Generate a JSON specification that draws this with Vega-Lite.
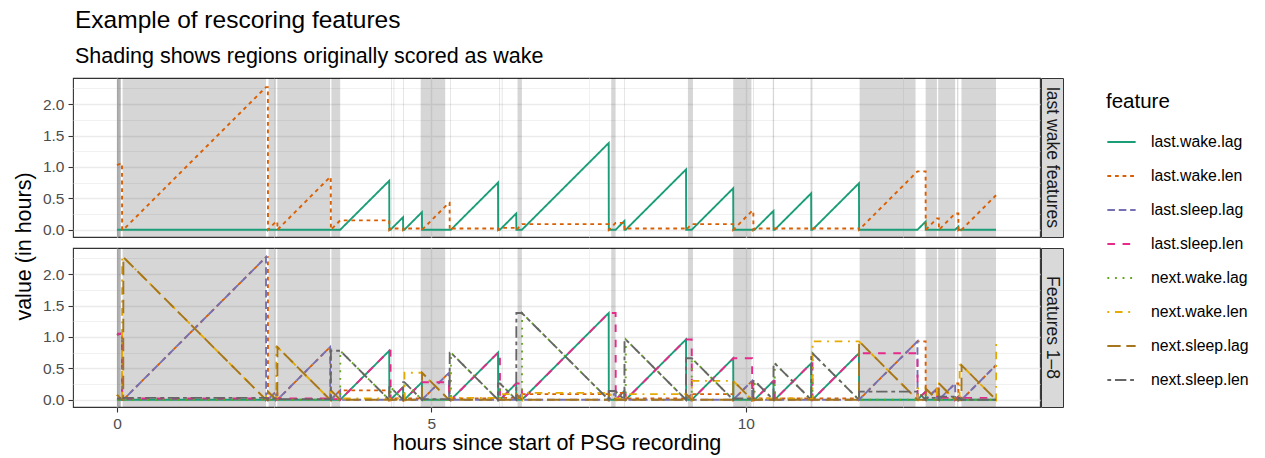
{
"$schema": "https://vega.github.io/schema/vega-lite/v6.json",
"padding": {"left": 12, "top": 8, "right": 0, "bottom": 0},
"title": {"text": "Example of rescoring features", "subtitle": "Shading shows regions originally scored as wake", "anchor": "start", "frame": "group", "dx": 2, "fontSize": 24.5, "subtitleFontSize": 21.5, "fontWeight": "normal", "color": "#000000", "subtitleColor": "#000000", "offset": 9, "subtitlePadding": 12, "font": "Liberation Sans", "subtitleFont": "Liberation Sans"},
"datasets": {
"wake": [{"t":0,"t2":0.065},{"t":0,"t2":0.055},{"t":0.09,"t2":2.37},{"t":2.41,"t2":2.53},{"t":2.55,"t2":3.39},{"t":3.41,"t2":3.55},{"t":4.36,"t2":4.37},{"t":4.40,"t2":4.41},{"t":4.55,"t2":4.56},{"t":4.83,"t2":5.22},{"t":5.30,"t2":5.31},{"t":6.08,"t2":6.09},{"t":6.12,"t2":6.13},{"t":6.37,"t2":6.44},{"t":7.86,"t2":7.93},{"t":8.07,"t2":8.08},{"t":9.08,"t2":9.16},{"t":9.80,"t2":10.09},{"t":10.12,"t2":10.13},{"t":10.43,"t2":10.45},{"t":11.03,"t2":11.06},{"t":11.81,"t2":12.70},{"t":12.86,"t2":13.04},{"t":13.06,"t2":13.33},{"t":13.36,"t2":13.38},{"t":13.43,"t2":13.98}],
"feat": [
{"f":"last.wake.lag","t":0,"v":0},{"f":"last.wake.lag","t":3.55,"v":0},{"f":"last.wake.lag","t":4.33,"v":0.78},{"f":"last.wake.lag","t":4.332,"v":0},{"f":"last.wake.lag","t":4.35,"v":0},{"f":"last.wake.lag","t":4.55,"v":0.2},{"f":"last.wake.lag","t":4.552,"v":0},{"f":"last.wake.lag","t":4.57,"v":0},{"f":"last.wake.lag","t":4.85,"v":0.28},{"f":"last.wake.lag","t":4.852,"v":0},{"f":"last.wake.lag","t":5.31,"v":0},{"f":"last.wake.lag","t":6.06,"v":0.75},{"f":"last.wake.lag","t":6.062,"v":0},{"f":"last.wake.lag","t":6.09,"v":0},{"f":"last.wake.lag","t":6.35,"v":0.26},{"f":"last.wake.lag","t":6.352,"v":0},{"f":"last.wake.lag","t":6.44,"v":0},{"f":"last.wake.lag","t":7.82,"v":1.38},{"f":"last.wake.lag","t":7.822,"v":0},{"f":"last.wake.lag","t":7.93,"v":0},{"f":"last.wake.lag","t":8.07,"v":0.14},{"f":"last.wake.lag","t":8.072,"v":0},{"f":"last.wake.lag","t":8.09,"v":0},{"f":"last.wake.lag","t":9.05,"v":0.96},{"f":"last.wake.lag","t":9.052,"v":0},{"f":"last.wake.lag","t":9.14,"v":0},{"f":"last.wake.lag","t":9.8,"v":0.66},{"f":"last.wake.lag","t":9.802,"v":0},{"f":"last.wake.lag","t":10.14,"v":0},{"f":"last.wake.lag","t":10.44,"v":0.3},{"f":"last.wake.lag","t":10.442,"v":0},{"f":"last.wake.lag","t":10.46,"v":0},{"f":"last.wake.lag","t":11.04,"v":0.58},{"f":"last.wake.lag","t":11.042,"v":0},{"f":"last.wake.lag","t":11.06,"v":0},{"f":"last.wake.lag","t":11.8,"v":0.74},{"f":"last.wake.lag","t":11.802,"v":0},{"f":"last.wake.lag","t":12.73,"v":0},{"f":"last.wake.lag","t":12.86,"v":0.13},{"f":"last.wake.lag","t":12.862,"v":0},{"f":"last.wake.lag","t":13.33,"v":0},{"f":"last.wake.lag","t":13.38,"v":0.05},{"f":"last.wake.lag","t":13.382,"v":0},{"f":"last.wake.lag","t":13.98,"v":0},
{"f":"last.wake.len","t":0,"v":1.03},{"f":"last.wake.len","t":0.08,"v":1.06},{"f":"last.wake.len","t":0.082,"v":0},{"f":"last.wake.len","t":0.1,"v":0},{"f":"last.wake.len","t":2.37,"v":2.27},{"f":"last.wake.len","t":2.4,"v":2.27},{"f":"last.wake.len","t":2.402,"v":0},{"f":"last.wake.len","t":2.53,"v":0.13},{"f":"last.wake.len","t":2.55,"v":0.13},{"f":"last.wake.len","t":2.552,"v":0},{"f":"last.wake.len","t":3.39,"v":0.84},{"f":"last.wake.len","t":3.4,"v":0.84},{"f":"last.wake.len","t":3.402,"v":0},{"f":"last.wake.len","t":3.55,"v":0.15},{"f":"last.wake.len","t":4.33,"v":0.15},{"f":"last.wake.len","t":4.332,"v":0},{"f":"last.wake.len","t":4.35,"v":0.02},{"f":"last.wake.len","t":4.55,"v":0.02},{"f":"last.wake.len","t":4.552,"v":0},{"f":"last.wake.len","t":4.57,"v":0.02},{"f":"last.wake.len","t":4.85,"v":0.02},{"f":"last.wake.len","t":4.852,"v":0},{"f":"last.wake.len","t":5.28,"v":0.43},{"f":"last.wake.len","t":5.29,"v":0.43},{"f":"last.wake.len","t":5.292,"v":0},{"f":"last.wake.len","t":5.31,"v":0.02},{"f":"last.wake.len","t":6.06,"v":0.02},{"f":"last.wake.len","t":6.062,"v":0},{"f":"last.wake.len","t":6.09,"v":0.03},{"f":"last.wake.len","t":6.35,"v":0.03},{"f":"last.wake.len","t":6.352,"v":0},{"f":"last.wake.len","t":6.44,"v":0.09},{"f":"last.wake.len","t":7.82,"v":0.09},{"f":"last.wake.len","t":7.822,"v":0},{"f":"last.wake.len","t":7.93,"v":0.11},{"f":"last.wake.len","t":8.07,"v":0.11},{"f":"last.wake.len","t":8.072,"v":0},{"f":"last.wake.len","t":8.09,"v":0.02},{"f":"last.wake.len","t":9.05,"v":0.02},{"f":"last.wake.len","t":9.052,"v":0},{"f":"last.wake.len","t":9.14,"v":0.09},{"f":"last.wake.len","t":9.8,"v":0.09},{"f":"last.wake.len","t":9.802,"v":0},{"f":"last.wake.len","t":10.1,"v":0.3},{"f":"last.wake.len","t":10.12,"v":0.3},{"f":"last.wake.len","t":10.122,"v":0},{"f":"last.wake.len","t":10.14,"v":0.02},{"f":"last.wake.len","t":11.8,"v":0.02},{"f":"last.wake.len","t":11.802,"v":0},{"f":"last.wake.len","t":12.73,"v":0.93},{"f":"last.wake.len","t":12.86,"v":0.93},{"f":"last.wake.len","t":12.862,"v":0},{"f":"last.wake.len","t":13.04,"v":0.18},{"f":"last.wake.len","t":13.07,"v":0.18},{"f":"last.wake.len","t":13.072,"v":0},{"f":"last.wake.len","t":13.33,"v":0.26},{"f":"last.wake.len","t":13.38,"v":0.26},{"f":"last.wake.len","t":13.382,"v":0},{"f":"last.wake.len","t":13.4,"v":0.02},{"f":"last.wake.len","t":13.43,"v":0.02},{"f":"last.wake.len","t":13.432,"v":0},{"f":"last.wake.len","t":13.98,"v":0.55},
{"f":"last.sleep.lag","t":0,"v":1.03},{"f":"last.sleep.lag","t":0.08,"v":1.06},{"f":"last.sleep.lag","t":0.082,"v":0},{"f":"last.sleep.lag","t":0.1,"v":0},{"f":"last.sleep.lag","t":2.37,"v":2.27},{"f":"last.sleep.lag","t":2.372,"v":0},{"f":"last.sleep.lag","t":2.4,"v":0},{"f":"last.sleep.lag","t":2.53,"v":0.13},{"f":"last.sleep.lag","t":2.532,"v":0},{"f":"last.sleep.lag","t":2.55,"v":0},{"f":"last.sleep.lag","t":3.39,"v":0.84},{"f":"last.sleep.lag","t":3.392,"v":0},{"f":"last.sleep.lag","t":3.4,"v":0},{"f":"last.sleep.lag","t":3.55,"v":0.15},{"f":"last.sleep.lag","t":3.552,"v":0},{"f":"last.sleep.lag","t":4.85,"v":0},{"f":"last.sleep.lag","t":5.28,"v":0.43},{"f":"last.sleep.lag","t":5.282,"v":0},{"f":"last.sleep.lag","t":6.35,"v":0},{"f":"last.sleep.lag","t":6.44,"v":0.09},{"f":"last.sleep.lag","t":6.442,"v":0},{"f":"last.sleep.lag","t":7.82,"v":0},{"f":"last.sleep.lag","t":7.93,"v":0.11},{"f":"last.sleep.lag","t":7.932,"v":0},{"f":"last.sleep.lag","t":9.05,"v":0},{"f":"last.sleep.lag","t":9.14,"v":0.09},{"f":"last.sleep.lag","t":9.142,"v":0},{"f":"last.sleep.lag","t":9.8,"v":0},{"f":"last.sleep.lag","t":10.1,"v":0.3},{"f":"last.sleep.lag","t":10.102,"v":0},{"f":"last.sleep.lag","t":11.8,"v":0},{"f":"last.sleep.lag","t":12.73,"v":0.93},{"f":"last.sleep.lag","t":12.732,"v":0},{"f":"last.sleep.lag","t":12.86,"v":0},{"f":"last.sleep.lag","t":13.04,"v":0.18},{"f":"last.sleep.lag","t":13.042,"v":0},{"f":"last.sleep.lag","t":13.07,"v":0},{"f":"last.sleep.lag","t":13.33,"v":0.26},{"f":"last.sleep.lag","t":13.332,"v":0},{"f":"last.sleep.lag","t":13.43,"v":0},{"f":"last.sleep.lag","t":13.98,"v":0.55},
{"f":"last.sleep.len","t":0,"v":1.05},{"f":"last.sleep.len","t":0.08,"v":1.05},{"f":"last.sleep.len","t":0.082,"v":0},{"f":"last.sleep.len","t":0.1,"v":0.02},{"f":"last.sleep.len","t":2.37,"v":0.02},{"f":"last.sleep.len","t":2.372,"v":0},{"f":"last.sleep.len","t":2.4,"v":0.03},{"f":"last.sleep.len","t":2.53,"v":0.03},{"f":"last.sleep.len","t":2.532,"v":0},{"f":"last.sleep.len","t":2.55,"v":0.02},{"f":"last.sleep.len","t":3.39,"v":0.02},{"f":"last.sleep.len","t":3.392,"v":0},{"f":"last.sleep.len","t":3.4,"v":0.01},{"f":"last.sleep.len","t":3.55,"v":0.01},{"f":"last.sleep.len","t":3.552,"v":0},{"f":"last.sleep.len","t":4.33,"v":0.78},{"f":"last.sleep.len","t":4.35,"v":0.78},{"f":"last.sleep.len","t":4.352,"v":0},{"f":"last.sleep.len","t":4.55,"v":0.2},{"f":"last.sleep.len","t":4.57,"v":0.2},{"f":"last.sleep.len","t":4.572,"v":0},{"f":"last.sleep.len","t":4.85,"v":0.28},{"f":"last.sleep.len","t":5.28,"v":0.28},{"f":"last.sleep.len","t":5.282,"v":0},{"f":"last.sleep.len","t":5.29,"v":0.01},{"f":"last.sleep.len","t":5.31,"v":0.01},{"f":"last.sleep.len","t":5.312,"v":0},{"f":"last.sleep.len","t":6.06,"v":0.75},{"f":"last.sleep.len","t":6.09,"v":0.75},{"f":"last.sleep.len","t":6.092,"v":0},{"f":"last.sleep.len","t":6.35,"v":0.26},{"f":"last.sleep.len","t":6.44,"v":0.26},{"f":"last.sleep.len","t":6.442,"v":0},{"f":"last.sleep.len","t":7.82,"v":1.38},{"f":"last.sleep.len","t":7.93,"v":1.38},{"f":"last.sleep.len","t":7.932,"v":0},{"f":"last.sleep.len","t":8.07,"v":0.14},{"f":"last.sleep.len","t":8.09,"v":0.14},{"f":"last.sleep.len","t":8.092,"v":0},{"f":"last.sleep.len","t":9.05,"v":0.96},{"f":"last.sleep.len","t":9.14,"v":0.96},{"f":"last.sleep.len","t":9.142,"v":0},{"f":"last.sleep.len","t":9.8,"v":0.66},{"f":"last.sleep.len","t":10.1,"v":0.66},{"f":"last.sleep.len","t":10.102,"v":0},{"f":"last.sleep.len","t":10.12,"v":0.02},{"f":"last.sleep.len","t":10.14,"v":0.02},{"f":"last.sleep.len","t":10.142,"v":0},{"f":"last.sleep.len","t":10.44,"v":0.3},{"f":"last.sleep.len","t":10.46,"v":0.3},{"f":"last.sleep.len","t":10.462,"v":0},{"f":"last.sleep.len","t":11.04,"v":0.58},{"f":"last.sleep.len","t":11.06,"v":0.58},{"f":"last.sleep.len","t":11.062,"v":0},{"f":"last.sleep.len","t":11.8,"v":0.74},{"f":"last.sleep.len","t":12.73,"v":0.74},{"f":"last.sleep.len","t":12.732,"v":0},{"f":"last.sleep.len","t":12.86,"v":0.13},{"f":"last.sleep.len","t":13.04,"v":0.13},{"f":"last.sleep.len","t":13.042,"v":0},{"f":"last.sleep.len","t":13.07,"v":0.03},{"f":"last.sleep.len","t":13.33,"v":0.03},{"f":"last.sleep.len","t":13.332,"v":0},{"f":"last.sleep.len","t":13.38,"v":0.05},{"f":"last.sleep.len","t":13.4,"v":0.05},{"f":"last.sleep.len","t":13.402,"v":0},{"f":"last.sleep.len","t":13.43,"v":0.03},{"f":"last.sleep.len","t":13.98,"v":0.03},
{"f":"next.wake.lag","t":0,"v":0},{"f":"next.wake.lag","t":3.55,"v":0},{"f":"next.wake.lag","t":3.552,"v":0.78},{"f":"next.wake.lag","t":4.33,"v":0},{"f":"next.wake.lag","t":4.35,"v":0},{"f":"next.wake.lag","t":4.352,"v":0.2},{"f":"next.wake.lag","t":4.55,"v":0},{"f":"next.wake.lag","t":4.57,"v":0},{"f":"next.wake.lag","t":4.572,"v":0.28},{"f":"next.wake.lag","t":4.85,"v":0},{"f":"next.wake.lag","t":5.31,"v":0},{"f":"next.wake.lag","t":5.312,"v":0.75},{"f":"next.wake.lag","t":6.06,"v":0},{"f":"next.wake.lag","t":6.09,"v":0},{"f":"next.wake.lag","t":6.092,"v":0.26},{"f":"next.wake.lag","t":6.35,"v":0},{"f":"next.wake.lag","t":6.44,"v":0},{"f":"next.wake.lag","t":6.442,"v":1.38},{"f":"next.wake.lag","t":7.82,"v":0},{"f":"next.wake.lag","t":7.93,"v":0},{"f":"next.wake.lag","t":7.932,"v":0.14},{"f":"next.wake.lag","t":8.07,"v":0},{"f":"next.wake.lag","t":8.09,"v":0},{"f":"next.wake.lag","t":8.092,"v":0.96},{"f":"next.wake.lag","t":9.05,"v":0},{"f":"next.wake.lag","t":9.14,"v":0},{"f":"next.wake.lag","t":9.142,"v":0.66},{"f":"next.wake.lag","t":9.8,"v":0},{"f":"next.wake.lag","t":10.14,"v":0},{"f":"next.wake.lag","t":10.142,"v":0.3},{"f":"next.wake.lag","t":10.44,"v":0},{"f":"next.wake.lag","t":10.46,"v":0},{"f":"next.wake.lag","t":10.462,"v":0.58},{"f":"next.wake.lag","t":11.04,"v":0},{"f":"next.wake.lag","t":11.06,"v":0},{"f":"next.wake.lag","t":11.062,"v":0.74},{"f":"next.wake.lag","t":11.8,"v":0},{"f":"next.wake.lag","t":12.73,"v":0},{"f":"next.wake.lag","t":12.732,"v":0.13},{"f":"next.wake.lag","t":12.86,"v":0},{"f":"next.wake.lag","t":13.33,"v":0},{"f":"next.wake.lag","t":13.332,"v":0.05},{"f":"next.wake.lag","t":13.38,"v":0},{"f":"next.wake.lag","t":13.98,"v":0},
{"f":"next.wake.len","t":0,"v":0.08},{"f":"next.wake.len","t":0.08,"v":0},{"f":"next.wake.len","t":0.082,"v":2.27},{"f":"next.wake.len","t":0.1,"v":2.27},{"f":"next.wake.len","t":2.37,"v":0},{"f":"next.wake.len","t":2.372,"v":0.13},{"f":"next.wake.len","t":2.4,"v":0.13},{"f":"next.wake.len","t":2.53,"v":0},{"f":"next.wake.len","t":2.532,"v":0.84},{"f":"next.wake.len","t":2.55,"v":0.84},{"f":"next.wake.len","t":3.39,"v":0},{"f":"next.wake.len","t":3.392,"v":0.15},{"f":"next.wake.len","t":3.4,"v":0.15},{"f":"next.wake.len","t":3.55,"v":0},{"f":"next.wake.len","t":3.552,"v":0.02},{"f":"next.wake.len","t":4.33,"v":0.02},{"f":"next.wake.len","t":4.35,"v":0},{"f":"next.wake.len","t":4.352,"v":0.02},{"f":"next.wake.len","t":4.55,"v":0.02},{"f":"next.wake.len","t":4.57,"v":0},{"f":"next.wake.len","t":4.572,"v":0.43},{"f":"next.wake.len","t":4.85,"v":0.43},{"f":"next.wake.len","t":5.28,"v":0},{"f":"next.wake.len","t":5.282,"v":0.02},{"f":"next.wake.len","t":5.29,"v":0.02},{"f":"next.wake.len","t":5.31,"v":0},{"f":"next.wake.len","t":5.312,"v":0.03},{"f":"next.wake.len","t":6.06,"v":0.03},{"f":"next.wake.len","t":6.09,"v":0},{"f":"next.wake.len","t":6.092,"v":0.09},{"f":"next.wake.len","t":6.35,"v":0.09},{"f":"next.wake.len","t":6.44,"v":0},{"f":"next.wake.len","t":6.442,"v":0.11},{"f":"next.wake.len","t":7.82,"v":0.11},{"f":"next.wake.len","t":7.93,"v":0},{"f":"next.wake.len","t":7.932,"v":0.02},{"f":"next.wake.len","t":8.07,"v":0.02},{"f":"next.wake.len","t":8.09,"v":0},{"f":"next.wake.len","t":8.092,"v":0.09},{"f":"next.wake.len","t":9.05,"v":0.09},{"f":"next.wake.len","t":9.14,"v":0},{"f":"next.wake.len","t":9.142,"v":0.3},{"f":"next.wake.len","t":9.8,"v":0.3},{"f":"next.wake.len","t":10.1,"v":0},{"f":"next.wake.len","t":10.102,"v":0.02},{"f":"next.wake.len","t":11.06,"v":0.02},{"f":"next.wake.len","t":11.062,"v":0.93},{"f":"next.wake.len","t":11.8,"v":0.93},{"f":"next.wake.len","t":12.73,"v":0},{"f":"next.wake.len","t":12.732,"v":0.18},{"f":"next.wake.len","t":12.86,"v":0.18},{"f":"next.wake.len","t":13.04,"v":0},{"f":"next.wake.len","t":13.042,"v":0.26},{"f":"next.wake.len","t":13.07,"v":0.26},{"f":"next.wake.len","t":13.33,"v":0},{"f":"next.wake.len","t":13.332,"v":0.02},{"f":"next.wake.len","t":13.4,"v":0.02},{"f":"next.wake.len","t":13.402,"v":0.55},{"f":"next.wake.len","t":13.43,"v":0.55},{"f":"next.wake.len","t":13.98,"v":0},{"f":"next.wake.len","t":13.982,"v":0.9},
{"f":"next.sleep.lag","t":0,"v":0.08},{"f":"next.sleep.lag","t":0.08,"v":0},{"f":"next.sleep.lag","t":0.1,"v":0},{"f":"next.sleep.lag","t":0.102,"v":2.27},{"f":"next.sleep.lag","t":2.37,"v":0},{"f":"next.sleep.lag","t":2.4,"v":0},{"f":"next.sleep.lag","t":2.402,"v":0.13},{"f":"next.sleep.lag","t":2.53,"v":0},{"f":"next.sleep.lag","t":2.55,"v":0},{"f":"next.sleep.lag","t":2.552,"v":0.84},{"f":"next.sleep.lag","t":3.39,"v":0},{"f":"next.sleep.lag","t":3.4,"v":0},{"f":"next.sleep.lag","t":3.402,"v":0.15},{"f":"next.sleep.lag","t":3.55,"v":0},{"f":"next.sleep.lag","t":4.85,"v":0},{"f":"next.sleep.lag","t":4.852,"v":0.43},{"f":"next.sleep.lag","t":5.28,"v":0},{"f":"next.sleep.lag","t":6.35,"v":0},{"f":"next.sleep.lag","t":6.352,"v":0.09},{"f":"next.sleep.lag","t":6.44,"v":0},{"f":"next.sleep.lag","t":7.82,"v":0},{"f":"next.sleep.lag","t":7.822,"v":0.11},{"f":"next.sleep.lag","t":7.93,"v":0},{"f":"next.sleep.lag","t":9.05,"v":0},{"f":"next.sleep.lag","t":9.052,"v":0.09},{"f":"next.sleep.lag","t":9.14,"v":0},{"f":"next.sleep.lag","t":9.8,"v":0},{"f":"next.sleep.lag","t":9.802,"v":0.3},{"f":"next.sleep.lag","t":10.1,"v":0},{"f":"next.sleep.lag","t":11.8,"v":0},{"f":"next.sleep.lag","t":11.802,"v":0.93},{"f":"next.sleep.lag","t":12.73,"v":0},{"f":"next.sleep.lag","t":12.86,"v":0},{"f":"next.sleep.lag","t":12.862,"v":0.18},{"f":"next.sleep.lag","t":13.04,"v":0},{"f":"next.sleep.lag","t":13.07,"v":0},{"f":"next.sleep.lag","t":13.072,"v":0.26},{"f":"next.sleep.lag","t":13.33,"v":0},{"f":"next.sleep.lag","t":13.43,"v":0},{"f":"next.sleep.lag","t":13.432,"v":0.55},{"f":"next.sleep.lag","t":13.98,"v":0},
{"f":"next.sleep.len","t":0,"v":0.02},{"f":"next.sleep.len","t":0.08,"v":0.02},{"f":"next.sleep.len","t":0.1,"v":0},{"f":"next.sleep.len","t":0.102,"v":0.03},{"f":"next.sleep.len","t":2.37,"v":0.03},{"f":"next.sleep.len","t":2.4,"v":0},{"f":"next.sleep.len","t":2.402,"v":0.02},{"f":"next.sleep.len","t":2.53,"v":0.02},{"f":"next.sleep.len","t":2.55,"v":0},{"f":"next.sleep.len","t":2.552,"v":0.01},{"f":"next.sleep.len","t":3.39,"v":0.01},{"f":"next.sleep.len","t":3.4,"v":0},{"f":"next.sleep.len","t":3.402,"v":0.78},{"f":"next.sleep.len","t":3.55,"v":0.78},{"f":"next.sleep.len","t":4.33,"v":0},{"f":"next.sleep.len","t":4.332,"v":0.2},{"f":"next.sleep.len","t":4.35,"v":0.2},{"f":"next.sleep.len","t":4.55,"v":0},{"f":"next.sleep.len","t":4.552,"v":0.28},{"f":"next.sleep.len","t":4.57,"v":0.28},{"f":"next.sleep.len","t":4.85,"v":0},{"f":"next.sleep.len","t":4.852,"v":0.01},{"f":"next.sleep.len","t":5.28,"v":0.01},{"f":"next.sleep.len","t":5.29,"v":0},{"f":"next.sleep.len","t":5.292,"v":0.75},{"f":"next.sleep.len","t":5.31,"v":0.75},{"f":"next.sleep.len","t":6.06,"v":0},{"f":"next.sleep.len","t":6.062,"v":0.26},{"f":"next.sleep.len","t":6.09,"v":0.26},{"f":"next.sleep.len","t":6.35,"v":0},{"f":"next.sleep.len","t":6.352,"v":1.38},{"f":"next.sleep.len","t":6.44,"v":1.38},{"f":"next.sleep.len","t":7.82,"v":0},{"f":"next.sleep.len","t":7.822,"v":0.14},{"f":"next.sleep.len","t":7.93,"v":0.14},{"f":"next.sleep.len","t":8.07,"v":0},{"f":"next.sleep.len","t":8.072,"v":0.96},{"f":"next.sleep.len","t":8.09,"v":0.96},{"f":"next.sleep.len","t":9.05,"v":0},{"f":"next.sleep.len","t":9.052,"v":0.66},{"f":"next.sleep.len","t":9.14,"v":0.66},{"f":"next.sleep.len","t":9.8,"v":0},{"f":"next.sleep.len","t":9.802,"v":0.02},{"f":"next.sleep.len","t":10.1,"v":0.02},{"f":"next.sleep.len","t":10.12,"v":0},{"f":"next.sleep.len","t":10.122,"v":0.3},{"f":"next.sleep.len","t":10.14,"v":0.3},{"f":"next.sleep.len","t":10.44,"v":0},{"f":"next.sleep.len","t":10.442,"v":0.58},{"f":"next.sleep.len","t":10.46,"v":0.58},{"f":"next.sleep.len","t":11.04,"v":0},{"f":"next.sleep.len","t":11.042,"v":0.74},{"f":"next.sleep.len","t":11.06,"v":0.74},{"f":"next.sleep.len","t":11.8,"v":0},{"f":"next.sleep.len","t":11.802,"v":0.13},{"f":"next.sleep.len","t":12.73,"v":0.13},{"f":"next.sleep.len","t":12.86,"v":0},{"f":"next.sleep.len","t":12.862,"v":0.03},{"f":"next.sleep.len","t":13.04,"v":0.03},{"f":"next.sleep.len","t":13.07,"v":0},{"f":"next.sleep.len","t":13.072,"v":0.05},{"f":"next.sleep.len","t":13.33,"v":0.05},{"f":"next.sleep.len","t":13.38,"v":0},{"f":"next.sleep.len","t":13.382,"v":0.03},{"f":"next.sleep.len","t":13.4,"v":0.03},{"f":"next.sleep.len","t":13.43,"v":0},{"f":"next.sleep.len","t":13.98,"v":0}
]
},
"bounds": "flush",
"columns": 2,
"spacing": {"row": 11, "column": 1},
"concat": [
 {"width": 967, "height": 159,
  "layer": [
   {"data": {"name": "wake"}, "mark": {"type": "rect", "fill": "#000000", "fillOpacity": 0.16},
    "encoding": {
     "x": {"field": "t", "type": "quantitative", "scale": {"domain": [-0.699, 14.679], "nice": false, "zero": false}, "axis": {"values": [0,2.5,5,7.5,10,12.5], "labels": false, "ticks": false, "title": null, "gridWidth": {"condition": {"test": "datum.value % 5 !== 0", "value": 0.7}, "value": 1.4}}},
     "x2": {"field": "t2"}}},
   {"data": {"name": "feat"}, "transform": [{"filter": {"field": "f", "oneOf": ["last.wake.lag", "last.wake.len"]}}],
    "mark": {"type": "line", "strokeWidth": 1.9},
    "encoding": {
     "x": {"field": "t", "type": "quantitative", "scale": {"domain": [-0.699, 14.679], "nice": false, "zero": false}, "axis": {"values": [0,2.5,5,7.5,10,12.5], "labels": false, "ticks": false, "title": null, "gridWidth": {"condition": {"test": "datum.value % 5 !== 0", "value": 0.7}, "value": 1.4}}},
     "y": {"field": "v", "type": "quantitative", "scale": {"domain": [-0.115, 2.415], "nice": false, "zero": false}, "axis": {"values": [0,0.25,0.5,0.75,1,1.25,1.5,1.75,2,2.25], "format": ".1f", "labelOverlap": false, "labelExpr": "(datum.value*4) % 2 === 0 ? datum.label : ''", "gridWidth": {"condition": {"test": "(datum.value*4) % 2 !== 0", "value": 0.7}, "value": 1.4}, "tickOpacity": {"condition": {"test": "(datum.value*4) % 2 !== 0", "value": 0}, "value": 1}, "title": "value (in hours)", "titleY": 168}},
     "color": {"field": "f", "type": "nominal", "title": "feature", "scale": {"domain": ["last.wake.lag","last.wake.len","last.sleep.lag","last.sleep.len","next.wake.lag","next.wake.len","next.sleep.lag","next.sleep.len"], "range": ["#1B9E77","#D95F02","#7570B3","#E7298A","#66A61E","#E6AB02","#A6761D","#666666"]}, "legend": {"orient": "none", "legendX": 1033, "legendY": 14}},
     "strokeDash": {"field": "f", "type": "nominal", "title": "feature", "scale": {"domain": ["last.wake.lag","last.wake.len","last.sleep.lag","last.sleep.len","next.wake.lag","next.wake.len","next.sleep.lag","next.sleep.len"], "range": [[1,0],[3.8,3.8],[7.6,3.8],[7.6,7.6],[1.9,5.7],[1.9,5.7,7.6,5.7],[13.3,5.7],[3.8,3.8,11.4,3.8]]}, "legend": {"orient": "none", "legendX": 1033, "legendY": 14}}
    }}
  ]},
 {"width": 22, "height": 159, "view": {"fill": "#D9D9D9", "stroke": "#333333"},
  "data": {"values": [{"label": "last wake features"}]},
  "mark": {"type": "text", "angle": 90, "fontSize": 17.5, "color": "#1A1A1A", "align": "center", "baseline": "middle"},
  "encoding": {"text": {"field": "label"}}},
 {"width": 967, "height": 159,
  "layer": [
   {"data": {"name": "wake"}, "mark": {"type": "rect", "fill": "#000000", "fillOpacity": 0.16},
    "encoding": {
     "x": {"field": "t", "type": "quantitative", "scale": {"domain": [-0.699, 14.679], "nice": false, "zero": false}, "axis": {"values": [0,2.5,5,7.5,10,12.5], "labelOverlap": false, "labelExpr": "datum.value % 5 === 0 ? datum.label : ''", "title": "hours since start of PSG recording", "titlePadding": 1, "gridWidth": {"condition": {"test": "datum.value % 5 !== 0", "value": 0.7}, "value": 1.4}, "tickOpacity": {"condition": {"test": "datum.value % 5 !== 0", "value": 0}, "value": 1}}},
     "x2": {"field": "t2"}}},
   {"data": {"name": "feat"},
    "mark": {"type": "line", "strokeWidth": 1.9},
    "encoding": {
     "x": {"field": "t", "type": "quantitative", "scale": {"domain": [-0.699, 14.679], "nice": false, "zero": false}, "axis": {"values": [0,2.5,5,7.5,10,12.5], "labelOverlap": false, "labelExpr": "datum.value % 5 === 0 ? datum.label : ''", "title": "hours since start of PSG recording", "titlePadding": 1, "gridWidth": {"condition": {"test": "datum.value % 5 !== 0", "value": 0.7}, "value": 1.4}, "tickOpacity": {"condition": {"test": "datum.value % 5 !== 0", "value": 0}, "value": 1}}},
     "y": {"field": "v", "type": "quantitative", "scale": {"domain": [-0.115, 2.415], "nice": false, "zero": false}, "axis": {"values": [0,0.25,0.5,0.75,1,1.25,1.5,1.75,2,2.25], "format": ".1f", "labelOverlap": false, "labelExpr": "(datum.value*4) % 2 === 0 ? datum.label : ''", "gridWidth": {"condition": {"test": "(datum.value*4) % 2 !== 0", "value": 0.7}, "value": 1.4}, "tickOpacity": {"condition": {"test": "(datum.value*4) % 2 !== 0", "value": 0}, "value": 1}, "title": null}},
     "color": {"field": "f", "type": "nominal", "title": "feature", "scale": {"domain": ["last.wake.lag","last.wake.len","last.sleep.lag","last.sleep.len","next.wake.lag","next.wake.len","next.sleep.lag","next.sleep.len"], "range": ["#1B9E77","#D95F02","#7570B3","#E7298A","#66A61E","#E6AB02","#A6761D","#666666"]}, "legend": {"orient": "none", "legendX": 1033, "legendY": 14}},
     "strokeDash": {"field": "f", "type": "nominal", "title": "feature", "scale": {"domain": ["last.wake.lag","last.wake.len","last.sleep.lag","last.sleep.len","next.wake.lag","next.wake.len","next.sleep.lag","next.sleep.len"], "range": [[1,0],[3.8,3.8],[7.6,3.8],[7.6,7.6],[1.9,5.7],[1.9,5.7,7.6,5.7],[13.3,5.7],[3.8,3.8,11.4,3.8]]}, "legend": {"orient": "none", "legendX": 1033, "legendY": 14}}
    }}
  ]},
 {"width": 22, "height": 159, "view": {"fill": "#D9D9D9", "stroke": "#333333"},
  "data": {"values": [{"label": "Features 1–8"}]},
  "mark": {"type": "text", "angle": 90, "fontSize": 17.5, "color": "#1A1A1A", "align": "center", "baseline": "middle"},
  "encoding": {"text": {"field": "label"}}}
],
"config": {
 "font": "Liberation Sans",
 "view": {"stroke": "#333333", "strokeWidth": 1.1},
 "axis": {"gridColor": "#EBEBEB", "labelColor": "#4D4D4D", "labelFontSize": 15.5, "labelPadding": 4, "tickColor": "#333333", "tickSize": 5, "tickWidth": 1.1, "domain": false, "titleFontSize": 21.5, "titleColor": "#000000", "titleFontWeight": "normal", "titlePadding": 7},
 "legend": {"titleFontSize": 20.5, "titleFontWeight": "normal", "titleColor": "#000000", "labelFontSize": 15.8, "labelColor": "#000000", "symbolType": "stroke", "symbolSize": 800, "symbolStrokeWidth": 1.9, "rowPadding": 10, "labelOffset": 14, "titlePadding": 14}
}
}
